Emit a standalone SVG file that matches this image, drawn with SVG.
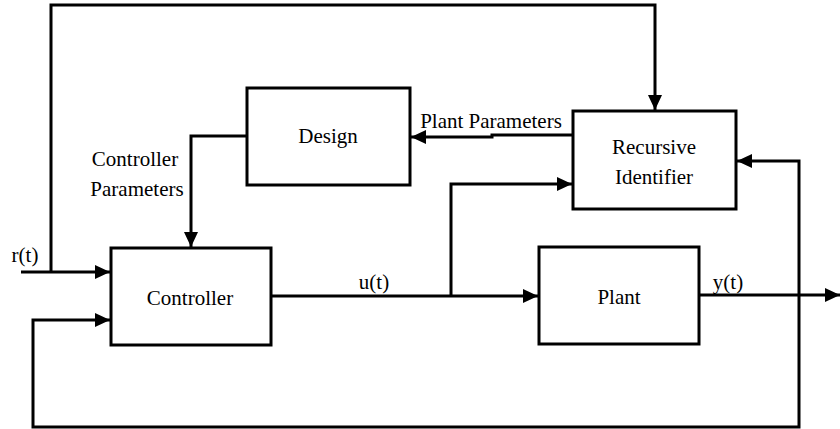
<svg xmlns="http://www.w3.org/2000/svg" width="840" height="429" viewBox="0 0 840 429">
<defs>
<style>
.box{fill:#fff;stroke:#000;stroke-width:3}
.ln{fill:none;stroke:#000;stroke-width:3}
text{font-family:'Liberation Serif','Times New Roman','DejaVu Serif',serif;font-size:21px;fill:#000;text-anchor:middle}
</style>
<marker id="ah" markerWidth="15" markerHeight="14" refX="15" refY="7" orient="auto" markerUnits="userSpaceOnUse" viewBox="0 0 15 14">
<path d="M0,0 L15,7 L0,14 Z" fill="#000"/>
</marker>
</defs>
<rect width="840" height="429" fill="#fff"/>
<g id="connectors">
<polyline class="ln" points="51,272 51,5 655,5 655,110" marker-end="url(#ah)"/>
<polyline class="ln" points="21,272 110,272" marker-end="url(#ah)"/>
<polyline class="ln" points="247,136 191,136 191,247" marker-end="url(#ah)"/>
<polyline class="ln" points="573,135 492,135 492,137 411,137" marker-end="url(#ah)"/>
<polyline class="ln" points="271,296 538,296" marker-end="url(#ah)"/>
<polyline class="ln" points="451,296 451,184 572,184" marker-end="url(#ah)"/>
<polyline class="ln" points="699,295 840,295" marker-end="url(#ah)"/>
<polyline class="ln" points="799,295 799,427 33,427 33,320 110,320" marker-end="url(#ah)"/>
<polyline class="ln" points="799,295 799,161 737,161" marker-end="url(#ah)"/>
</g>
<g id="design">
<rect class="box" x="247" y="88" width="163" height="97"/>
<text x="328" y="143" font-family="Liberation Serif, serif">Design</text>
</g>
<g id="identifier">
<rect class="box" x="573" y="111" width="163" height="98"/>
<text x="654" y="154" font-family="Liberation Serif, serif">Recursive</text>
<text x="654" y="184" font-family="Liberation Serif, serif">Identifier</text>
</g>
<g id="controller">
<rect class="box" x="111" y="248" width="160" height="97"/>
<text x="190" y="305" font-family="Liberation Serif, serif">Controller</text>
</g>
<g id="plant">
<rect class="box" x="539" y="247" width="160" height="97"/>
<text x="619" y="304" font-family="Liberation Serif, serif">Plant</text>
</g>
<g id="labels" font-family="Liberation Serif, serif">
<text x="135" y="166">Controller</text>
<text x="137" y="196">Parameters</text>
<text x="491" y="128">Plant Parameters</text>
<text x="374" y="289">u(t)</text>
<text x="25" y="262">r(t)</text>
<text x="728" y="289">y(t)</text>
</g>
</svg>
